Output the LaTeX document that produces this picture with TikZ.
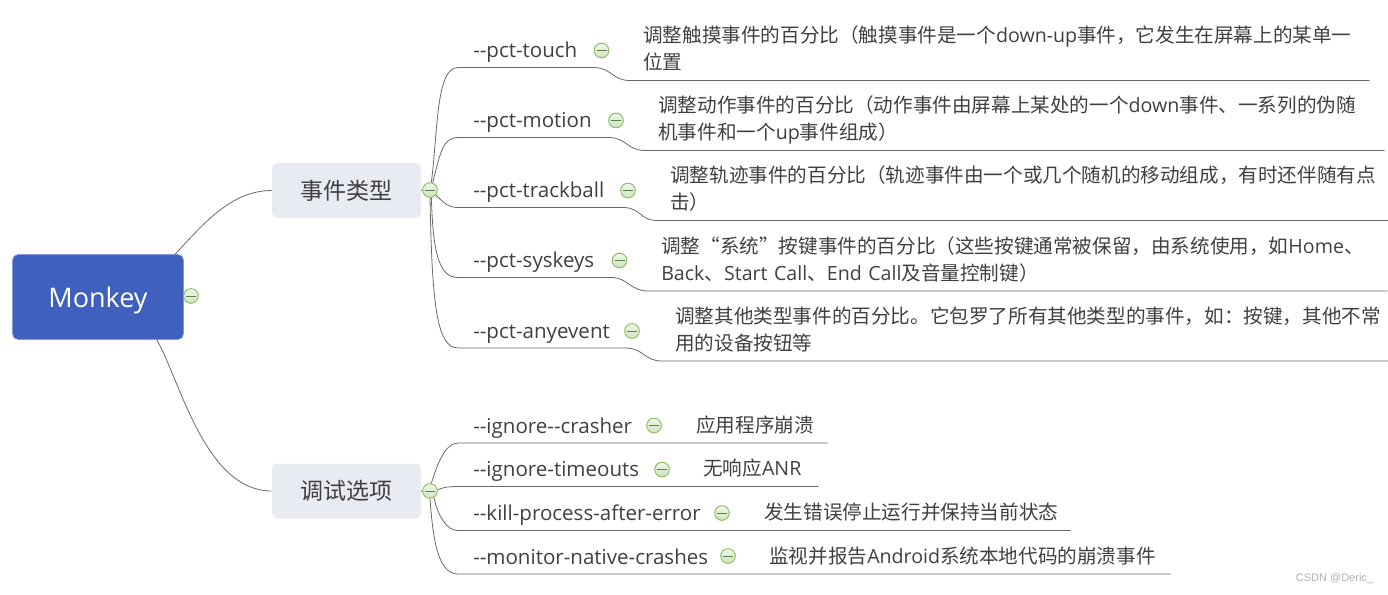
\documentclass[tikz,border=0pt]{standalone}
\usepackage{fontspec}
\setmainfont{Noto Sans CJK SC}
\newfontfamily\latn{Open Sans}
\newfontfamily\markfont{Liberation Sans}
\newcommand{\en}[1]{{\latn #1}}
\usetikzlibrary{calc, shapes.geometric}
\definecolor{rootblue}{HTML}{4060BE}
\definecolor{rootedge}{HTML}{6480CC}
\definecolor{topicgray}{HTML}{E9EBF3}
\definecolor{inkgray}{HTML}{404040}
\definecolor{linegray}{HTML}{6A6A6A}
\definecolor{foldedge}{HTML}{8CBB5C}
\definecolor{foldtop}{HTML}{F1F7EC}
\definecolor{foldbot}{HTML}{CBE4BC}
\definecolor{foldbar}{HTML}{5E7F50}
\definecolor{markgray}{HTML}{B0B0B0}

\begin{document}
\begin{tikzpicture}[
  x=0.75pt, y=-0.75pt,
  root/.style={rectangle, rounded corners=4pt, draw=rootedge, line width=0.5pt, fill=rootblue,
    minimum width=128pt, minimum height=63.5pt, text=white, text height=19.9pt, text depth=4.9pt,
    font=\latn\fontsize{20.25}{24}\selectfont},
  topic/.style={rectangle, rounded corners=4pt, fill=topicgray, minimum width=111.75pt,
    minimum height=41.25pt, inner sep=0pt, text=inkgray, font=\fontsize{17.25}{21}\selectfont},
  fold/.style={circle, draw=foldedge, line width=0.7pt, top color=foldtop, bottom color=foldbot,
    minimum size=11pt, inner sep=0pt,
    path picture={\draw[foldbar, line width=0.6pt]
      ($(path picture bounding box.center)+(-5,0)$) -- +(10,0);}},
  leaf/.style={anchor=south west, align=left, text width=#1*0.75pt, inner xsep=11.25pt,
    inner ysep=7.2pt, text depth=0pt, text=inkgray, font=\latn\fontsize{15.4}{20}\selectfont,
    execute at begin node={\hyphenpenalty=10000 \exhyphenpenalty=10000}},
  desc/.style={anchor=south west, align=left, text width=#1*0.75pt, inner xsep=9.75pt,
    inner ysep=1.8pt, text=inkgray, font=\fontsize{14.7}{20.25}\selectfont,
    execute at begin node={\hyphenpenalty=10000 \exhyphenpenalty=10000},
    execute at end node={\strut}},
  conn/.style={draw=linegray, line width=0.6pt},
]
\useasboundingbox (0,0) rectangle (1388,594);

% Central topic and its two branches
\node[root] (monkey) at (98,297) {Monkey};
\node[topic] (events) at (346.5,190.5) {事件类型};
\node[topic] (debug) at (346.5,491) {调试选项};

\node[fold] (foldroot) at (191,296) {};
\node[fold] (hubevents) at (430,190) {};
\node[fold] (hubdebug) at (430,491) {};

\draw[conn] (monkey.29) .. controls (205,222) and (232,190.5) .. (events.west);
\draw[conn] (monkey.-36) .. controls (180,380) and (205,491) .. (debug.west);
\draw[conn] (events.east) -- (hubevents.west);
\draw[conn] (debug.east) -- (hubdebug.west);

% Event type rows
\node[leaf=105] (touch) at (458,67.5) {--pct-touch};
\node[desc=713] (touchdesc) at (630,80.5)
  {调整触摸事件的百分比（触摸事件是一个\en{down-up}事件，它发生在屏幕上的某单一\\位置};
\node[leaf=120] (motion) at (458,137.5) {--pct-motion};
\node[desc=713] (motiondesc) at (645,150.5)
  {调整动作事件的百分比（动作事件由屏幕上某处的一个\en{down}事件、一系列的伪随\\机事件和一个\en{up}事件组成）};
\node[leaf=135] (trackball) at (458,207.5) {--pct-trackball};
\node[desc=705] (trackballdesc) at (657,220.5)
  {调整轨迹事件的百分比（轨迹事件由一个或几个随机的移动组成，有时还伴随有点\\击）};
\node[leaf=122] (syskeys) at (458,277.5) {--pct-syskeys};
\node[desc=713] (syskeysdesc) at (648,291)
  {调整“系统”按键事件的百分比（这些按键通常被保留，由系统使用，如\en{Home}、\\\en{Back}、\en{Start Call}、\en{End Call}及音量控制键）};
\node[leaf=137] (anyevent) at (458,348) {--pct-anyevent};
\node[desc=700] (anyeventdesc) at (662,361)
  {调整其他类型事件的百分比。它包罗了所有其他类型的事件，如：按键，其他不常\\用的设备按钮等};

\node[fold] (foldtouch) at (601.5,50.5) {};
\node[fold] (foldmotion) at (616,120.5) {};
\node[fold] (foldtrackball) at (628,190.5) {};
\node[fold] (foldsyskeys) at (619.5,260.5) {};
\node[fold] (foldanyevent) at (632,331) {};

\draw[conn] (hubevents.80) .. controls (438,130) and (436,67.5) .. (touch.south west) -- (touch.south east)
  .. controls +(18,0) and +(-18,0) .. (touchdesc.south west) -- (touchdesc.south east);
\draw[conn] (hubevents.70) .. controls (440,155) and (442,137.5) .. (motion.south west) -- (motion.south east)
  .. controls +(18,0) and +(-18,0) .. (motiondesc.south west) -- (motiondesc.south east);
\draw[conn] (hubevents.-40) .. controls (444,203) and (448,207.5) .. (trackball.south west) -- (trackball.south east)
  .. controls +(17,0) and +(-17,0) .. (trackballdesc.south west) -- (trackballdesc.south east);
\draw[conn] (hubevents.-80) .. controls (433,250) and (438,277.5) .. (syskeys.south west) -- (syskeys.south east)
  .. controls +(18,0) and +(-18,0) .. (syskeysdesc.south west) -- (syskeysdesc.south east);
\draw[conn] (hubevents.-90) .. controls (432,300) and (436,348) .. (anyevent.south west) -- (anyevent.south east)
  .. controls +(18,0) and +(-18,0) .. (anyeventdesc.south west) -- (anyeventdesc.south east);

% Debug option rows
\node[leaf=195] (crasher) at (458,443) {--ignore--crasher};
\node[desc=118] (crasherdesc) at (683,443) {应用程序崩溃};
\node[leaf=202] (timeouts) at (458,486.5) {--ignore-timeouts};
\node[desc=102] (timeoutsdesc) at (690,486.5) {无响应\en{ANR}};
\node[leaf=263] (killproc) at (458,530.5) {--kill-process-after-error};
\node[desc=293] (killprocdesc) at (751,530.5) {发生错误停止运行并保持当前状态};
\node[leaf=268] (monitor) at (458,574) {--monitor-native-crashes};
\node[desc=388] (monitordesc) at (756,574) {监视并报告\en{Android}系统本地代码的崩溃事件};

\node[fold] (foldcrasher) at (654,425.5) {};
\node[fold] (foldtimeouts) at (662,469.5) {};
\node[fold] (foldkillproc) at (722,513) {};
\node[fold] (foldmonitor) at (728,556) {};

\draw[conn] (hubdebug.80) .. controls (437,465) and (445,443) .. (crasher.south west) -- (crasherdesc.south east);
\draw[conn] (hubdebug.10) .. controls (444,487) and (450,486.5) .. (timeouts.south west) -- (timeoutsdesc.south east);
\draw[conn] (hubdebug.-60) .. controls (438,515) and (446,530.5) .. (killproc.south west) -- (killprocdesc.south east);
\draw[conn] (hubdebug.-90) .. controls (433,540) and (438,574) .. (monitor.south west) -- (monitordesc.south east);

\node[text=markgray, inner sep=0pt, font=\markfont\fontsize{8.25}{10}\selectfont] (mark) at (1334.5,579) {CSDN @Deric\_};
\end{tikzpicture}
\end{document}
